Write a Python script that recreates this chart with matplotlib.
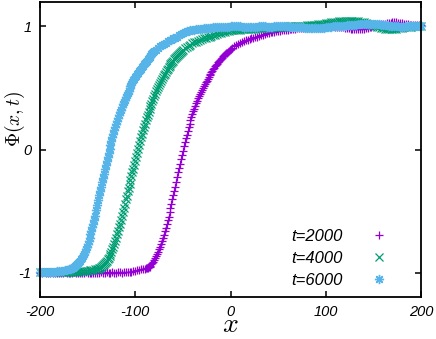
import numpy as np
import matplotlib
matplotlib.use('Agg')
import matplotlib.pyplot as plt

# sample positions: every 2 units on the plateaus, every unit across each front
x_t2000 = np.concatenate([np.arange(-200, -90, 2), np.arange(-90, 0), np.arange(0, 201, 2)])
x_t4000 = np.concatenate([np.arange(-200, -140, 2), np.arange(-140, -50), np.arange(-50, 201, 2)])
x_t6000 = np.concatenate([np.arange(-200, -170, 2), np.arange(-170, -80), np.arange(-80, 201, 2)])

# Phi(x,t)
phi_t2000 = [
    # -200 .. -92, step 2
    -1.0, -1.0, -0.995, -1.0, -1.0, -1.0, -0.995, -1.0, -1.0, -1.0,
    -1.0, -1.0, -1.0, -0.995, -1.0, -1.0, -1.0, -1.0, -0.995, -1.0,
    -1.0, -1.0, -1.0, -1.0, -0.995, -1.0, -1.0, -1.0, -1.0, -1.0,
    -1.0, -1.0, -0.995, -1.0, -1.0, -0.995, -1.0, -1.0, -0.995, -1.0,
    -1.0, -0.995, -0.995, -1.0, -0.99, -0.995, -0.99, -0.99, -0.99, -0.985,
    -0.985, -0.98, -0.975, -0.972, -0.968,
    # -90 .. -1, step 1
    -0.965, -0.963, -0.96, -0.958, -0.955, -0.948, -0.94, -0.93, -0.92, -0.908,
    -0.895, -0.88, -0.865, -0.848, -0.83, -0.81, -0.79, -0.768, -0.745, -0.718,
    -0.69, -0.663, -0.635, -0.605, -0.575, -0.543, -0.51, -0.475, -0.44, -0.405,
    -0.37, -0.335, -0.30, -0.26, -0.22, -0.185, -0.15, -0.115, -0.08, -0.045,
    -0.01, 0.025, 0.06, 0.09, 0.12, 0.15, 0.18, 0.208, 0.235, 0.26,
    0.285, 0.308, 0.33, 0.353, 0.375, 0.395, 0.415, 0.433, 0.45, 0.468,
    0.485, 0.50, 0.515, 0.53, 0.545, 0.558, 0.57, 0.585, 0.60, 0.613,
    0.625, 0.638, 0.65, 0.663, 0.675, 0.685, 0.695, 0.705, 0.715, 0.725,
    0.735, 0.745, 0.755, 0.763, 0.77, 0.778, 0.785, 0.793, 0.80, 0.808,
    # 0 .. 200, step 2
    0.815, 0.825, 0.835, 0.845, 0.855, 0.865, 0.87, 0.88, 0.885, 0.89,
    0.895, 0.90, 0.905, 0.91, 0.915, 0.92, 0.925, 0.93, 0.935, 0.94,
    0.945, 0.948, 0.95, 0.955, 0.958, 0.96, 0.962, 0.965, 0.967, 0.97,
    0.972, 0.974, 0.976, 0.978, 0.98, 0.982, 0.984, 0.985, 0.986, 0.987,
    0.988, 0.989, 0.99, 0.99, 0.991, 0.992, 0.993, 0.994, 0.995, 0.995,
    0.996, 0.997, 0.998, 0.998, 0.997, 0.996, 0.995, 0.994, 0.993, 0.99,
    0.988, 0.985, 0.982, 0.98, 0.978, 0.976, 0.975, 0.975, 0.976, 0.978,
    0.98, 0.983, 0.987, 0.99, 0.995, 1.0, 1.005, 1.01, 1.012, 1.015,
    1.018, 1.02, 1.023, 1.025, 1.027, 1.03, 1.03, 1.03, 1.028, 1.025,
    1.022, 1.02, 1.017, 1.015, 1.012, 1.01, 1.008, 1.005, 1.005, 1.005,
    1.005,
]

phi_t4000 = [
    # -200 .. -142, step 2
    -0.99, -0.99, -0.99, -0.99, -0.99, -0.99, -0.99, -0.99, -0.99, -0.99,
    -0.99, -0.99, -0.99, -0.99, -0.99, -0.99, -0.99, -0.99, -0.99, -0.99,
    -0.99, -0.988, -0.987, -0.985, -0.984, -0.982, -0.98, -0.978, -0.975, -0.972,
    # -140 .. -51, step 1
    -0.968, -0.965, -0.962, -0.956, -0.95, -0.943, -0.935, -0.928, -0.92, -0.91,
    -0.90, -0.888, -0.875, -0.86, -0.845, -0.828, -0.81, -0.788, -0.765, -0.74,
    -0.715, -0.688, -0.66, -0.63, -0.60, -0.568, -0.535, -0.503, -0.47, -0.438,
    -0.405, -0.373, -0.34, -0.31, -0.28, -0.248, -0.215, -0.185, -0.155, -0.123,
    -0.09, -0.058, -0.025, 0.008, 0.04, 0.07, 0.10, 0.128, 0.155, 0.183,
    0.21, 0.235, 0.26, 0.283, 0.305, 0.328, 0.35, 0.37, 0.39, 0.41,
    0.43, 0.45, 0.47, 0.488, 0.505, 0.523, 0.54, 0.555, 0.57, 0.585,
    0.60, 0.615, 0.63, 0.643, 0.655, 0.668, 0.68, 0.69, 0.70, 0.71,
    0.72, 0.73, 0.74, 0.75, 0.76, 0.768, 0.775, 0.783, 0.79, 0.798,
    # -50 .. 200, step 2
    0.805, 0.82, 0.83, 0.84, 0.85,
    0.86, 0.867, 0.874, 0.88, 0.887, 0.893, 0.90, 0.905, 0.91, 0.915,
    0.92, 0.925, 0.93, 0.935, 0.94, 0.945, 0.95, 0.955, 0.96, 0.962,
    0.965, 0.967, 0.968, 0.97, 0.971, 0.972, 0.973, 0.974, 0.975, 0.976,
    0.977, 0.978, 0.979, 0.98, 0.981, 0.982, 0.983, 0.984, 0.985, 0.986,
    0.987, 0.988, 0.989, 0.99, 0.991, 0.992, 0.993, 0.994, 0.995, 0.996,
    0.997, 0.998, 0.999, 1.0, 1.0, 1.0, 1.001, 1.002, 1.003, 1.004,
    1.005, 1.006, 1.007, 1.008, 1.01, 1.012, 1.014, 1.016, 1.018, 1.02,
    1.022, 1.025, 1.028, 1.03, 1.033, 1.035, 1.037, 1.039, 1.04, 1.041,
    1.042, 1.042, 1.042, 1.041, 1.04, 1.04, 1.039, 1.038, 1.036, 1.033,
    1.03, 1.025, 1.02, 1.015, 1.01, 1.005, 1.0, 0.995, 0.99, 0.985,
    0.982, 0.98, 0.978, 0.977, 0.976, 0.977, 0.978, 0.98, 0.982, 0.985,
    0.987, 0.99, 0.992, 0.994, 0.995, 0.996, 0.997, 0.998, 0.999, 1.0,
    1.0,
]

phi_t6000 = [
    # -200 .. -172, step 2
    -0.99, -0.99, -0.99, -0.99, -0.99, -0.99, -0.99, -0.99, -0.99, -0.987,
    -0.985, -0.983, -0.981, -0.978, -0.975,
    # -170 .. -81, step 1
    -0.972, -0.97, -0.968, -0.965, -0.962, -0.956, -0.95, -0.943, -0.935, -0.928,
    -0.92, -0.91, -0.90, -0.888, -0.875, -0.86, -0.845, -0.828, -0.81, -0.788,
    -0.765, -0.74, -0.715, -0.688, -0.66, -0.63, -0.60, -0.568, -0.535, -0.493,
    -0.45, -0.41, -0.37, -0.335, -0.30, -0.265, -0.23, -0.195, -0.16, -0.128,
    -0.095, -0.063, -0.03, 0.005, 0.04, 0.07, 0.10, 0.128, 0.155, 0.183,
    0.21, 0.233, 0.255, 0.278, 0.30, 0.323, 0.345, 0.365, 0.385, 0.405,
    0.425, 0.443, 0.46, 0.478, 0.495, 0.513, 0.53, 0.545, 0.56, 0.573,
    0.585, 0.598, 0.61, 0.623, 0.635, 0.645, 0.655, 0.668, 0.68, 0.69,
    0.70, 0.71, 0.72, 0.73, 0.74, 0.75, 0.76, 0.77, 0.78, 0.79,
    # -80 .. 200, step 2
    0.80, 0.81, 0.825, 0.835, 0.845, 0.855, 0.865, 0.875, 0.885, 0.89,
    0.90, 0.905, 0.915, 0.925, 0.935, 0.945, 0.952, 0.96, 0.963, 0.966,
    0.97, 0.972, 0.975, 0.977, 0.978, 0.98, 0.982, 0.984, 0.985, 0.987,
    0.988, 0.99, 0.991, 0.992, 0.993, 0.994, 0.995, 0.995, 0.996, 0.996,
    0.997, 0.997, 0.998, 0.998, 0.998, 0.997, 0.996, 0.995, 0.995, 0.994,
    0.994, 0.994, 0.995, 0.995, 0.996, 0.997, 0.998, 0.998, 0.997, 0.996,
    0.995, 0.995, 0.996, 0.997, 0.998, 0.999, 1.0, 1.0, 0.999, 0.998,
    0.997, 0.996, 0.995, 0.994, 0.993, 0.992, 0.991, 0.99, 0.989, 0.988,
    0.987, 0.986, 0.985, 0.985, 0.985, 0.985, 0.985, 0.986, 0.987, 0.988,
    0.99, 0.992, 0.994, 0.996, 0.998, 1.0, 1.0, 1.001, 1.002, 1.003,
    1.004, 1.005, 1.006, 1.007, 1.008, 1.01, 1.012, 1.014, 1.015, 1.016,
    1.017, 1.018, 1.019, 1.02, 1.02, 1.02, 1.019, 1.017, 1.015, 1.012,
    1.01, 1.008, 1.006, 1.004, 1.002, 1.0, 0.999, 0.998, 0.997, 0.996,
    0.996, 0.996, 0.997, 0.997, 0.998, 0.998, 0.999, 0.999, 1.0, 1.0,
    1.0,
]

labels = ['t=2000', 't=4000', 't=6000']
x_ticks = [-200, -100, 0, 100, 200]
y_ticks = [-1, 0, 1]

plt.rcParams['mathtext.fontset'] = 'cm'
tick_font = {'family': 'Liberation Sans', 'style': 'italic', 'size': 10.5}

fig = plt.figure(figsize=(4.36, 3.39), dpi=100)
ax = fig.add_axes([40 / 436, 42 / 339, 381 / 436, 295 / 339])

# gnuplot-like point types: +, x, asterisk
ax.plot(x_t2000, phi_t2000, ls='none', marker='+', ms=5.8, mew=0.9,
        color='#9400d3', label=labels[0], clip_on=False)
ax.plot(x_t4000, phi_t4000, ls='none', marker='x', ms=5.2, mew=0.9,
        color='#009e73', label=labels[1], clip_on=False)
ax.plot(x_t6000, phi_t6000, ls='none', marker=(8, 2, 0), ms=6.6, mew=1.0,
        color='#56b4e9', label=labels[2], clip_on=False)

ax.set_xlim(-200, 200)
ax.set_ylim(-1.195, 1.195)
ax.set_xticks(x_ticks)
ax.set_yticks(y_ticks)
ax.set_xticklabels([str(t) for t in x_ticks], fontdict=tick_font)
ax.set_yticklabels([str(t) for t in y_ticks], fontdict=tick_font)
ax.tick_params(direction='in', top=True, right=True, length=4.5, width=1.1,
               pad=6)
for sp in ax.spines.values():
    sp.set_linewidth(1.3)

fig.text(230 / 436, 0.5 / 339, r'$x$', fontsize=20, ha='center', va='bottom')
fig.text(15 / 436, 1 - 119 / 339, r'$\Phi(x,t)$', fontsize=14,
         rotation=90, ha='center', va='center')

ax.legend(loc='lower right', bbox_to_anchor=(0.9115, 0.03), frameon=False,
          markerfirst=False, handlelength=1.0, handletextpad=1.7,
          labelspacing=0.42, borderpad=0, borderaxespad=0,
          prop={'family': 'Liberation Sans', 'style': 'italic', 'size': 12})

fig.savefig('out.png', dpi=100)
